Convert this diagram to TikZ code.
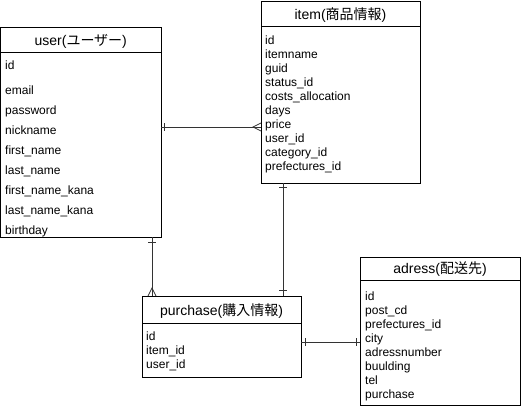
\documentclass[tikz,border=0pt]{standalone}
\usepackage{fontspec}
\setmainfont{Liberation Sans}
\newfontfamily\jp{Noto Sans CJK JP}
\usetikzlibrary{positioning}

\begin{document}
\begin{tikzpicture}[x=1pt,y=-1pt,
    tbl/.style={draw,line width=0.8pt,anchor=north west,inner sep=0pt,outer sep=0pt},
    ttl/.style={font=\fontsize{14}{16}\selectfont,inner sep=0pt,anchor=base},
    fld/.style={font=\fontsize{12}{14}\selectfont,inner sep=0pt,anchor=base west},
    rel/.style={line width=0.8pt,black!80}]
        \useasboundingbox (0,0) rectangle (521,410);

        % tables
        \node[tbl,minimum width=160.5pt,minimum height=210pt] (user) at (0.5,27) {};
        \node[tbl,minimum width=159pt,minimum height=182pt] (item) at (261,1) {};
        \node[tbl,minimum width=159pt,minimum height=81pt] (purchase) at (142,296) {};
        \node[tbl,minimum width=160pt,minimum height=148pt] (adress) at (360,257) {};

        % headers
        \draw[line width=0.8pt] (user.north west) ++(0,25) -- ++(160.5,0);
        \draw[line width=0.8pt] (item.north west) ++(0,25) -- ++(159,0);
        \draw[line width=0.8pt] (purchase.north west) ++(0,27) -- ++(159,0);
        \draw[line width=0.8pt] (adress.north west) ++(0,23) -- ++(160,0);
        \node[ttl] (userttl) at (80.75,45) {user({\jp ユーザー})};
        \node[ttl] (itemttl) at (340.5,19) {item({\jp 商品情報})};
        \node[ttl] (purchasettl) at (221.5,315) {purchase({\jp 購入情報})};
        \node[ttl] (adressttl) at (440,273.5) {adress({\jp 配送先})};

        % fields
        \node[fld] (user-0) at (5,69) {id};
        \foreach \f [count=\i] in {email,password,nickname,first\_name,last\_name,
            first\_name\_kana,last\_name\_kana,birthday}
        	\node[fld] (user-\i) at (5,74+20*\i) {\f};
        \foreach \f [count=\i from 0] in {id,itemname,guid,status\_id,costs\_allocation,
            days,price,user\_id,category\_id,prefectures\_id}
        	\node[fld] (item-\i) at (265,44+14*\i) {\f};
        \foreach \f [count=\i from 0] in {id,item\_id,user\_id}
        	\node[fld] (purchase-\i) at (146,340+14*\i) {\f};
        \foreach \f [count=\i from 0] in {id,post\_cd,prefectures\_id,city,adressnumber,
            buulding,tel,purchase}
        	\node[fld] (adress-\i) at (365,300+14*\i) {\f};

        % relations
        \coordinate (ui-a) at (161,127);
        \coordinate (ui-b) at (261,127);
        \draw[rel] (ui-a) -- (ui-b);
        \draw[rel] (164,123) -- (164,131);
        \draw[rel] (261,123) -- (253,127) -- (261,131);

        \coordinate (up-a) at (152,237);
        \coordinate (up-b) at (152,296);
        \draw[rel] (up-a) -- (up-b);
        \draw[rel] (148,242) -- (156,242);
        \draw[rel] (148,296) -- (152,288) -- (156,296);

        \coordinate (ip-a) at (283,183);
        \coordinate (ip-b) at (283,296);
        \draw[rel] (ip-a) -- (ip-b);
        \draw[rel] (279,187) -- (287,187);
        \draw[rel] (279,290) -- (287,290);

        \coordinate (pa-a) at (301,342);
        \coordinate (pa-b) at (360,342);
        \draw[rel] (pa-a) -- (pa-b);
        \draw[rel] (305,338) -- (305,346);
        \draw[rel] (356,338) -- (356,346);
\end{tikzpicture}
\end{document}
